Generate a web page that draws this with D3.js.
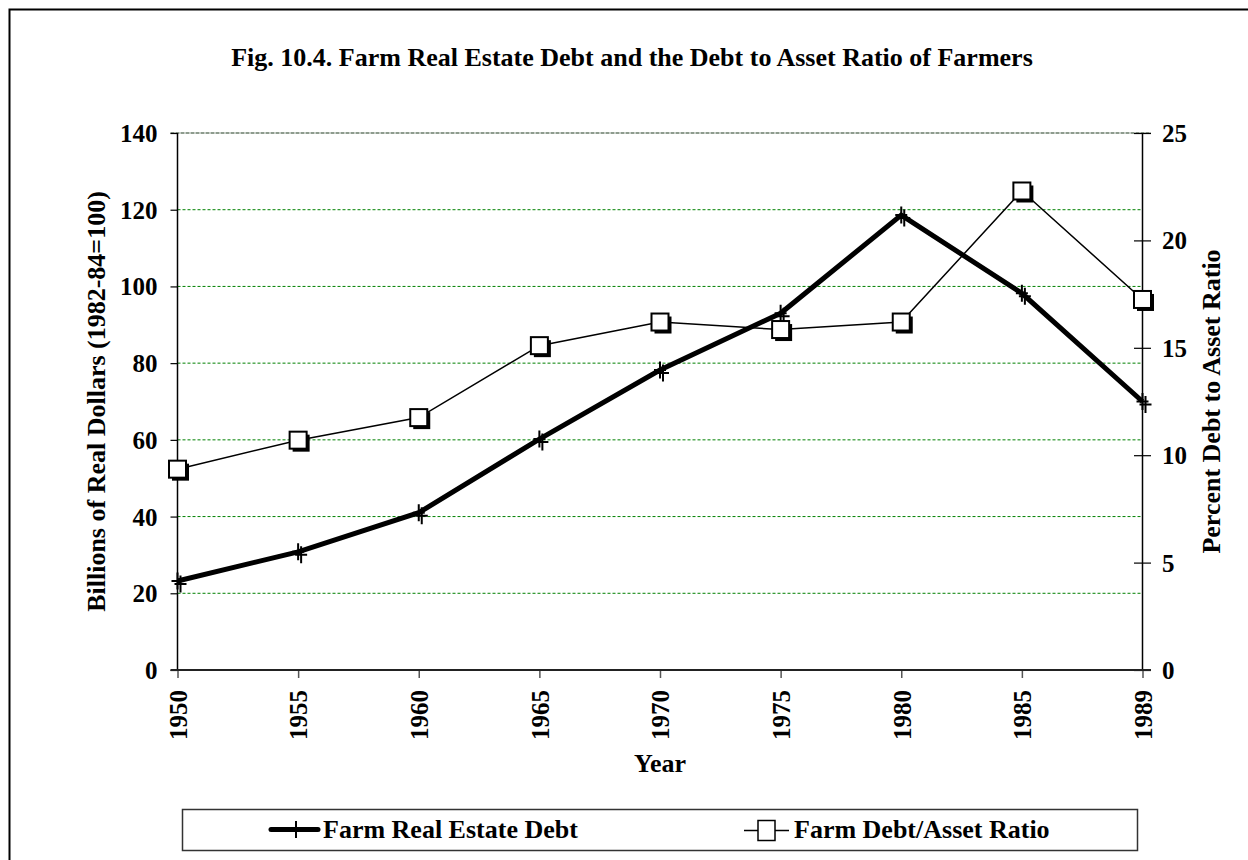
<!DOCTYPE html>
<html>
<head>
<meta charset="utf-8">
<script src="https://cdn.jsdelivr.net/npm/d3@7"></script>
<style>
  body { margin: 0; background: #fff; }
  text { font-family: "Liberation Serif", "Times New Roman", serif; font-weight: bold; fill: #000; }
</style>
</head>
<body>
<svg id="chart" width="1248" height="860"></svg>
<script>
// Farm real estate debt (billions of 1982-84 dollars) and debt/asset ratio (%)
const years = ["1950", "1955", "1960", "1965", "1970", "1975", "1980", "1985", "1989"];
const debt = [23.2, 30.8, 41.0, 60.2, 78.2, 93.0, 118.6, 98.2, 70.0];
const ratio = [9.35, 10.7, 11.75, 15.1, 16.2, 15.85, 16.2, 22.3, 17.25];
const leftTicks = [0, 20, 40, 60, 80, 100, 120, 140];
const rightTicks = [0, 5, 10, 15, 20, 25];
const gridValues = [20, 40, 60, 80, 100, 120];

const titleText = "Fig. 10.4. Farm Real Estate Debt and the Debt to Asset Ratio of Farmers";
const leftTitle = "Billions of Real Dollars (1982-84=100)";
const rightTitle = "Percent Debt to Asset Ratio";
const xTitle = "Year";
const seriesNames = ["Farm Real Estate Debt", "Farm Debt/Asset Ratio"];

const svg = d3.select("#chart");
const plot = { left: 177.5, right: 1142.5, top: 133, bottom: 670 };

const x = d3.scalePoint().domain(years).range([plot.left, plot.right]);
const yL = d3.scaleLinear().domain([0, 140]).range([plot.bottom, plot.top]);
const yR = d3.scaleLinear().domain([0, 25]).range([plot.bottom, plot.top]);

// outer frame
svg.append("rect")
  .attr("x", 9.5).attr("y", 9.5).attr("width", 1400).attr("height", 1000)
  .attr("fill", "none").attr("stroke", "#000").attr("stroke-width", 2);

// title
svg.append("text")
  .attr("x", 632).attr("y", 66)
  .attr("text-anchor", "middle")
  .style("font-size", "26px")
  .text(titleText);

// horizontal gridlines on the left scale
svg.append("g").selectAll("line")
  .data(gridValues).join("line")
  .attr("x1", plot.left).attr("x2", plot.right)
  .attr("y1", d => yL(d)).attr("y2", d => yL(d))
  .attr("stroke", "#008000").attr("stroke-width", 1)
  .attr("stroke-dasharray", "3,2");

// top border line
svg.append("line")
  .attr("x1", plot.left - 7).attr("x2", plot.right + 8.5)
  .attr("y1", yL(140)).attr("y2", yL(140))
  .attr("stroke", "#1f3a1f").attr("stroke-width", 1.2)
  .attr("stroke-dasharray", "4,1");

// left axis
const gL = svg.append("g")
  .attr("transform", `translate(${plot.left},0)`)
  .call(d3.axisLeft(yL).tickValues(leftTicks).tickSize(7).tickPadding(13));
gL.select(".domain").remove();
gL.selectAll(".tick line").attr("stroke", "#000").attr("stroke-width", 1.2);
gL.selectAll(".tick text").style("font-size", "25px").attr("dy", "0.34em");
gL.attr("font-family", null).attr("font-size", null);

svg.append("line")
  .attr("x1", plot.left).attr("x2", plot.left)
  .attr("y1", plot.top).attr("y2", plot.bottom)
  .attr("stroke", "#000").attr("stroke-width", 1.5);

// right axis
const gR = svg.append("g")
  .attr("transform", `translate(${plot.right},0)`)
  .call(d3.axisRight(yR).tickValues(rightTicks).tickSize(8.5).tickPadding(11));
gR.select(".domain").remove();
gR.selectAll(".tick line").attr("x1", -8.5).attr("stroke", "#000").attr("stroke-width", 1.2);
gR.selectAll(".tick text").style("font-size", "25px").attr("dy", "0.34em");
gR.attr("font-family", null).attr("font-size", null);

svg.append("line")
  .attr("x1", plot.right).attr("x2", plot.right)
  .attr("y1", plot.top).attr("y2", plot.bottom)
  .attr("stroke", "#000").attr("stroke-width", 1.5);

// bottom axis
const gX = svg.append("g")
  .attr("transform", `translate(0,${plot.bottom})`)
  .call(d3.axisBottom(x).tickSize(8).tickPadding(0));
gX.select(".domain").remove();
gX.selectAll(".tick line").attr("stroke", "#555").attr("stroke-width", 1.5);
gX.selectAll(".tick text")
  .style("font-size", "25px")
  .attr("transform", "rotate(-90)")
  .attr("text-anchor", "end")
  .attr("x", -20).attr("y", 0).attr("dy", "0.35em");
gX.attr("font-family", null).attr("font-size", null);

svg.append("line")
  .attr("x1", plot.left - 7).attr("x2", plot.right + 8.5)
  .attr("y1", plot.bottom).attr("y2", plot.bottom)
  .attr("stroke", "#222").attr("stroke-width", 2);

// axis titles
svg.append("text")
  .attr("transform", `translate(105,${(plot.top + plot.bottom) / 2}) rotate(-90)`)
  .attr("text-anchor", "middle")
  .style("font-size", "26px")
  .text(leftTitle);

svg.append("text")
  .attr("transform", `translate(1220,${(plot.top + plot.bottom) / 2}) rotate(-90)`)
  .attr("text-anchor", "middle")
  .style("font-size", "26px")
  .text(rightTitle);

svg.append("text")
  .attr("x", (plot.left + plot.right) / 2).attr("y", 772)
  .attr("text-anchor", "middle")
  .style("font-size", "26px")
  .text(xTitle);

// debt series: thick line with "+" markers
const debtPts = years.map((yr, i) => [x(yr), yL(debt[i])]);
svg.append("path")
  .datum(debtPts)
  .attr("d", d3.line())
  .attr("fill", "none").attr("stroke", "#000")
  .attr("stroke-width", 5).attr("stroke-linejoin", "miter");

const plusPath = (cx, cy, h, v) =>
  `M${cx - h},${cy}H${cx + h}M${cx},${cy - v}V${cy + v}`;

const debtMarks = svg.append("g");
debtMarks.selectAll("path.shadow")
  .data(debtPts).join("path")
  .attr("class", "shadow")
  .attr("d", d => plusPath(d[0] + 3, d[1] + 3, 6, 8.5))
  .attr("stroke", "#000").attr("stroke-width", 2).attr("fill", "none");
debtMarks.selectAll("path.mark")
  .data(debtPts).join("path")
  .attr("class", "mark")
  .attr("d", d => plusPath(d[0], d[1], 6, 8.5))
  .attr("stroke", "#000").attr("stroke-width", 2).attr("fill", "none");

// ratio series: thin line with shadowed square markers
const ratioPts = years.map((yr, i) => [x(yr), yR(ratio[i])]);
svg.append("path")
  .datum(ratioPts)
  .attr("d", d3.line())
  .attr("fill", "none").attr("stroke", "#000").attr("stroke-width", 1.5);

const sq = 17;
const ratioMarks = svg.append("g");
ratioMarks.selectAll("rect.shadow")
  .data(ratioPts).join("rect")
  .attr("class", "shadow")
  .attr("x", d => d[0] - sq / 2 + 3).attr("y", d => d[1] - sq / 2 + 3)
  .attr("width", sq).attr("height", sq)
  .attr("fill", "#000");
ratioMarks.selectAll("rect.mark")
  .data(ratioPts).join("rect")
  .attr("class", "mark")
  .attr("x", d => d[0] - sq / 2).attr("y", d => d[1] - sq / 2)
  .attr("width", sq).attr("height", sq)
  .attr("fill", "#fff").attr("stroke", "#000").attr("stroke-width", 2);

// legend
const legend = svg.append("g");
legend.append("rect")
  .attr("x", 182.5).attr("y", 809.5).attr("width", 955).attr("height", 41)
  .attr("fill", "#fff").attr("stroke", "#333").attr("stroke-width", 1.5);

const ly = 829.5;
legend.append("line")
  .attr("x1", 271).attr("x2", 318).attr("y1", ly).attr("y2", ly)
  .attr("stroke", "#000").attr("stroke-width", 5).attr("stroke-linecap", "round");
legend.append("line")
  .attr("x1", 296).attr("x2", 296).attr("y1", ly - 8.5).attr("y2", ly + 8.5)
  .attr("stroke", "#000").attr("stroke-width", 2);
legend.append("text")
  .attr("x", 323).attr("y", 838).style("font-size", "26px")
  .text(seriesNames[0]);

legend.append("line")
  .attr("x1", 744).attr("x2", 789).attr("y1", ly + 1).attr("y2", ly + 1)
  .attr("stroke", "#000").attr("stroke-width", 1.5);
legend.append("rect")
  .attr("x", 758).attr("y", ly - 9).attr("width", 17).attr("height", 20)
  .attr("fill", "#fff").attr("stroke", "#000").attr("stroke-width", 1.5);
legend.append("text")
  .attr("x", 794).attr("y", 838).style("font-size", "26px")
  .text(seriesNames[1]);
</script>
</body>
</html>
